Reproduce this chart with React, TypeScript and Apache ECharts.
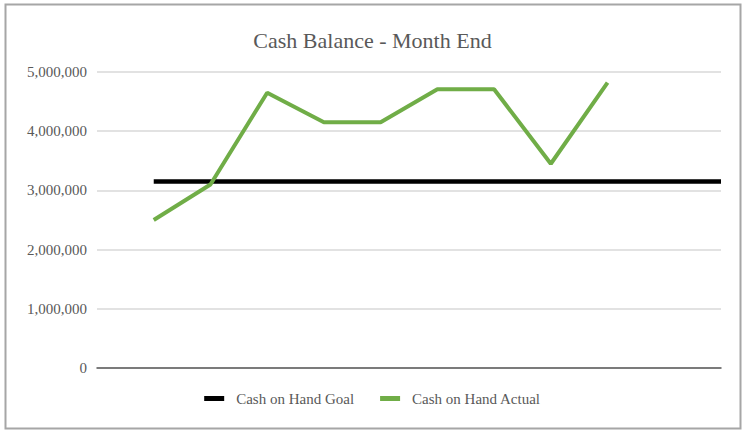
import React, { useEffect, useRef } from "react";
import * as echarts from "echarts";

const title = "Cash Balance - Month End";
const categories = ["", "Jan", "Feb", "Mar", "Apr", "May", "Jun", "Jul", "Aug", "Sep", "Oct", "Nov"];
const goalName = "Cash on Hand Goal";
const actualName = "Cash on Hand Actual";
const goalValues = [null, 3150000, 3150000, 3150000, 3150000, 3150000, 3150000, 3150000, 3150000, 3150000, 3150000, 3150000];
const actualValues = [null, 2500000, 3100000, 4650000, 4150000, 4150000, 4710000, 4710000, 3450000, 4820000, null, null];
const yMin = 0;
const yMax = 5000000;
const yInterval = 1000000;

const FONT = "'Liberation Serif', 'Times New Roman', serif";
const TEXT = "#595959";

export default function App() {
  const ref = useRef<HTMLDivElement>(null);
  useEffect(() => {
    if (!ref.current) return;
    const chart = echarts.init(ref.current, undefined, { renderer: "svg" });
    chart.setOption({
      animation: false,
      backgroundColor: "#ffffff",
      title: {
        text: title,
        left: "center",
        top: 24,
        textStyle: { fontFamily: FONT, fontSize: 22, fontWeight: "normal", color: TEXT },
      },
      legend: {
        bottom: 19,
        left: "center",
        itemWidth: 20,
        itemHeight: 5,
        itemGap: 26,
        icon: "rect",
        formatter: (n: string) => `{a|${n}}`,
        textStyle: {
          fontFamily: FONT,
          fontSize: 15,
          color: TEXT,
          rich: { a: { fontFamily: FONT, fontSize: 15, color: TEXT, padding: [0, 0, 0, 7] } },
        },
        data: [goalName, actualName],
      },
      grid: { left: 97, right: 24, top: 72, bottom: 62, containLabel: false, outerBoundsMode: "none" },
      xAxis: {
        type: "category",
        data: categories,
        boundaryGap: false,
        axisLine: { lineStyle: { color: "#595959", width: 1.5 } },
        axisTick: { show: false },
        axisLabel: { show: false },
        splitLine: { show: false },
      },
      yAxis: {
        type: "value",
        min: yMin,
        max: yMax,
        interval: yInterval,
        axisLine: { show: false },
        axisTick: { show: false },
        axisLabel: {
          fontFamily: FONT,
          fontSize: 15,
          color: TEXT,
          margin: 10,
          formatter: (v: number) => v.toLocaleString("en-US"),
        },
        splitLine: { lineStyle: { color: "#d9d9d9", width: 1.5 } },
      },
      series: [
        {
          name: goalName,
          type: "line",
          data: goalValues,
          showSymbol: false,
          symbol: "none",
          lineStyle: { color: "#000000", width: 4.5 },
          itemStyle: { color: "#000000" },
          z: 2,
        },
        {
          name: actualName,
          type: "line",
          data: actualValues,
          showSymbol: false,
          symbol: "none",
          lineStyle: { color: "#70ad47", width: 4 },
          itemStyle: { color: "#70ad47" },
          z: 3,
        },
      ],
      graphic: [
        {
          type: "rect",
          shape: { x: 5.5, y: 4.5, width: 735, height: 424 },
          style: { fill: "none", stroke: "#a6a6a6", lineWidth: 2 },
          silent: true,
        },
      ],
    });
    return () => chart.dispose();
  }, []);
  return (
    <div
      ref={ref}
      style={{ position: "fixed", left: 0, top: 0, width: 745, height: 430, background: "#fff" }}
    />
  );
}
